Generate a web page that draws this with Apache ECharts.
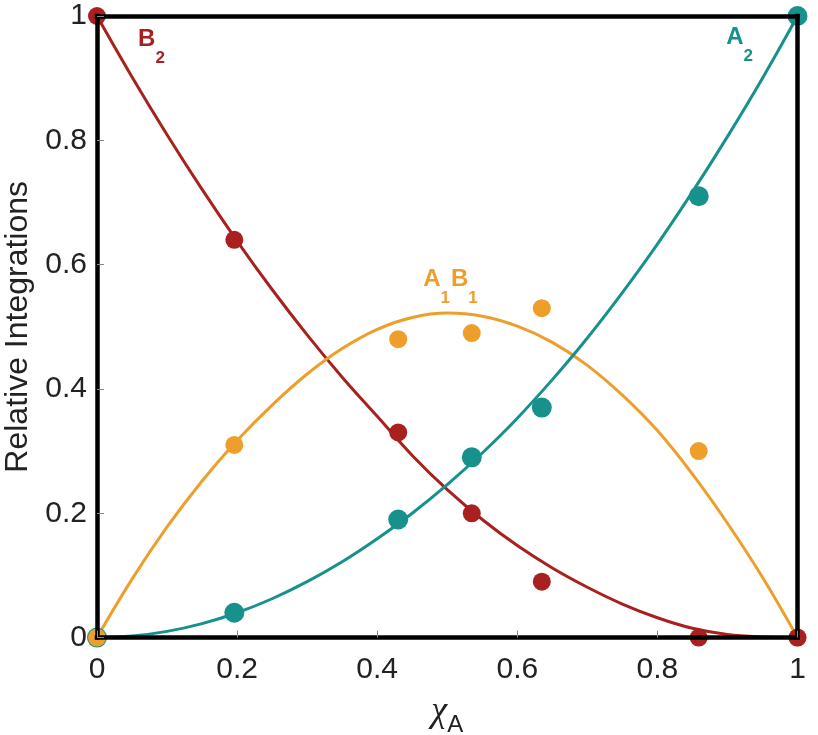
<!DOCTYPE html>
<html><head><meta charset="utf-8">
<script src="https://cdn.jsdelivr.net/npm/echarts@6/dist/echarts.min.js"></script>
<style>html,body{margin:0;padding:0;background:#fff}#c{width:818px;height:735px}</style>
</head><body><div id="c"></div>
<script>
// Smooth fitted curves
const sampleX  = [0,0.05,0.1,0.15,0.2,0.25,0.3,0.35,0.4,0.45,0.5,0.55,0.6,0.65,0.7,0.75,0.8,0.85,0.9,0.95,1];
const fitB2    = [1,0.902,0.809,0.721,0.638,0.560,0.487,0.419,0.356,0.293,0.238,0.190,0.148,0.112,0.081,0.054,0.032,0.015,0.005,0.001,0];
const fitA1B1  = [0,0.094,0.178,0.252,0.317,0.374,0.424,0.465,0.496,0.515,0.522,0.517,0.501,0.475,0.438,0.390,0.333,0.263,0.184,0.097,0];
const fitA2    = [0,0.0025,0.01,0.0225,0.04,0.0625,0.09,0.122,0.159,0.2,0.246,0.297,0.353,0.415,0.482,0.555,0.633,0.717,0.806,0.9,1];
// Measured points
const measX    = [0,0.196,0.43,0.535,0.635,0.859,1];
const measB2   = [1,0.64,0.33,0.20,0.09,0.0,0];
const measA1B1 = [0,0.31,0.48,0.49,0.53,0.30,0];
const measA2   = [0,0.04,0.19,0.29,0.37,0.71,1];
// Curve labels: text and anchor (data coords)
const labelB2   = {parts:[['B','2']], at:[0.0785,0.950]};
const labelA2   = {parts:[['A','2']], at:[0.918,0.953]};
const labelA1B1 = {parts:[['A','1'],['B','1']], at:[0.5053,0.564]};

const RED='#A8201F', TEAL='#17918C', ORANGE='#EE9E2B';
const FONT="'Liberation Sans', Helvetica, Arial, sans-serif";
const TXT='#222';

const pairs=(xs,ys)=>xs.map((x,i)=>[x,ys[i]]);

function richLabel(parts,color){
  return {
    show:true, position:'inside', color:color,
    formatter: parts.map(p=>'{m|'+p[0]+'}{s|'+p[1]+'}').join(''),
    rich:{
      m:{fontFamily:FONT,fontWeight:'bold',fontSize:24,color:color,lineHeight:40,verticalAlign:'top',padding:[0,0,14,0]},
      s:{fontFamily:FONT,fontWeight:'bold',fontSize:17,color:color,lineHeight:40,verticalAlign:'bottom',padding:[14,1,0,0]}
    }
  };
}
function mp(lbl,color){
  return {symbol:'circle',symbolSize:0,silent:true,
    label:richLabel(lbl.parts,color),
    data:[{coord:lbl.at}]};
}

const chart=echarts.init(document.getElementById('c'),null,{renderer:'canvas'});
const frame={show:true,onZero:false,lineStyle:{color:'#000',width:4.5,cap:'square'}};
chart.setOption({
  animation:false,
  backgroundColor:'#fff',
  grid:{left:97,right:20.5,top:16,bottom:97.4,containLabel:false,outerBoundsMode:'none'},
  xAxis:[{
    type:'value',min:0,max:1,interval:0.2,position:'bottom',z:10,
    axisLine:frame,
    axisTick:{show:true,inside:true,length:7,lineStyle:{color:'#888',width:1}},
    axisLabel:{fontFamily:FONT,fontSize:30,color:TXT,margin:17},
    splitLine:{show:false},
    name:'{c|χ}{a|A}',nameLocation:'middle',nameGap:56,
    nameTextStyle:{rich:{
      c:{fontFamily:"'Liberation Serif', 'DejaVu Serif', serif",fontStyle:'italic',fontSize:36,color:TXT,lineHeight:44,verticalAlign:'top'},
      a:{fontFamily:FONT,fontSize:24,color:TXT,lineHeight:44,verticalAlign:'bottom',padding:[14,0,0,0]}
    }}
  },{
    type:'value',min:0,max:1,position:'top',z:10,
    axisLine:frame,axisTick:{show:false},axisLabel:{show:false},splitLine:{show:false}
  }],
  yAxis:[{
    type:'value',min:0,max:1,interval:0.2,position:'left',z:10,
    axisLine:frame,
    axisTick:{show:true,inside:true,length:7,lineStyle:{color:'#888',width:1}},
    axisLabel:{fontFamily:FONT,fontSize:30,color:TXT,margin:10},
    splitLine:{show:false},
    name:'Relative Integrations',nameLocation:'middle',nameGap:60,nameRotate:90,
    nameTextStyle:{fontFamily:FONT,fontSize:32,color:TXT}
  },{
    type:'value',min:0,max:1,position:'right',z:10,
    axisLine:frame,axisTick:{show:false},axisLabel:{show:false},splitLine:{show:false}
  }],
  series:[
    {name:'B2 fit',type:'line',data:pairs(sampleX,fitB2),smooth:0.4,showSymbol:false,
      lineStyle:{color:RED,width:3},z:2,markPoint:mp(labelB2,RED)},
    {name:'A1B1 fit',type:'line',data:pairs(sampleX,fitA1B1),smooth:0.4,showSymbol:false,
      lineStyle:{color:ORANGE,width:3},z:2,markPoint:mp(labelA1B1,ORANGE)},
    {name:'A2 fit',type:'line',data:pairs(sampleX,fitA2),smooth:0.4,showSymbol:false,
      lineStyle:{color:TEAL,width:3},z:2,markPoint:mp(labelA2,TEAL)},
    {name:'A2',type:'scatter',data:pairs(measX,measA2),symbolSize:20,itemStyle:{color:TEAL,opacity:1},z:3},
    {name:'A1B1',type:'scatter',data:pairs(measX,measA1B1),symbolSize:18,itemStyle:{color:ORANGE,opacity:1},z:4},
    {name:'B2',type:'scatter',data:pairs(measX,measB2),symbolSize:18,itemStyle:{color:RED,opacity:1},z:5}
  ]
});
</script></body></html>
